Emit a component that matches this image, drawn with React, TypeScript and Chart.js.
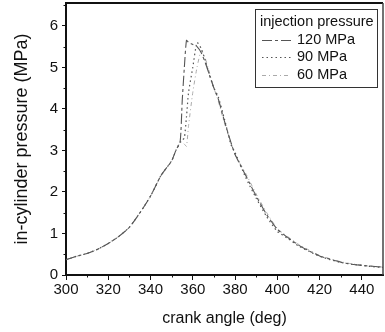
import React, { useEffect, useRef } from "react";
import { Chart, registerables } from "chart.js";

Chart.register(...registerables);

const angles = [300, 305, 310, 315, 320, 325, 330, 335, 340, 345, 350, 352, 354, 355, 356, 357, 358, 360, 362, 364, 366, 368, 370, 372, 375, 378, 380, 385, 390, 395, 400, 405, 410, 415, 420, 425, 430, 435, 440, 445, 450];
const p120 = [0.37, 0.45, 0.52, 0.62, 0.76, 0.93, 1.15, 1.5, 1.9, 2.4, 2.75, 3.0, 3.2, 4.2, 5.0, 5.65, 5.6, 5.55, 5.5, 5.35, 5.1, 4.8, 4.5, 4.25, 3.7, 3.2, 2.9, 2.4, 1.9, 1.45, 1.1, 0.9, 0.72, 0.58, 0.46, 0.38, 0.31, 0.26, 0.23, 0.21, 0.19];
const p90 = [0.37, 0.45, 0.52, 0.62, 0.76, 0.93, 1.15, 1.5, 1.9, 2.4, 2.75, 3.0, 3.2, 3.25, 3.3, 3.8, 4.4, 5.0, 5.6, 5.45, 5.15, 4.8, 4.5, 4.3, 3.75, 3.15, 2.95, 2.35, 1.85, 1.4, 1.05, 0.88, 0.7, 0.57, 0.45, 0.37, 0.3, 0.26, 0.23, 0.2, 0.18];
const p60 = [0.37, 0.45, 0.52, 0.62, 0.76, 0.93, 1.15, 1.5, 1.9, 2.4, 2.75, 3.0, 3.2, 3.2, 3.15, 3.1, 3.6, 4.4, 5.0, 5.4, 5.2, 4.85, 4.5, 4.2, 3.65, 3.2, 2.9, 2.45, 1.95, 1.5, 1.12, 0.92, 0.74, 0.6, 0.47, 0.39, 0.32, 0.27, 0.24, 0.21, 0.19];

const seriesLabels = ["120 MPa", "90 MPa", "60 MPa"];
const legendTitle = "injection pressure";
const xTicks = [300, 320, 340, 360, 380, 400, 420, 440];
const yTicks = [0, 1, 2, 3, 4, 5, 6];
const xTitle = "crank angle (deg)";
const yTitle = "in-cylinder pressure (MPa)";

const FONT = "'Liberation Sans', Arial, Helvetica, sans-serif";

const frameAndLegend = {
  id: "frameAndLegend",
  afterDatasetsDraw(chart: any) {
    const { ctx, chartArea: a, scales } = chart;
    const xs = scales.x;
    const ys = scales.y;
    ctx.save();
    // minor ticks
    ctx.strokeStyle = "#111";
    ctx.lineWidth = 1;
    for (let v = xs.min + 10; v < xs.max; v += 20) {
      const px = Math.round(xs.getPixelForValue(v)) + 0.5;
      ctx.beginPath();
      ctx.moveTo(px, a.bottom);
      ctx.lineTo(px, a.bottom + 2.5);
      ctx.stroke();
    }
    for (let v = 0.5; v < ys.max; v += 1) {
      const py = Math.round(ys.getPixelForValue(v)) + 0.5;
      ctx.beginPath();
      ctx.moveTo(a.left, py);
      ctx.lineTo(a.left - 2.5, py);
      ctx.stroke();
    }
    // top & right frame
    ctx.strokeStyle = "#111";
    ctx.lineWidth = 2;
    ctx.beginPath();
    ctx.moveTo(a.left, a.top);
    ctx.lineTo(a.right, a.top);
    ctx.stroke();
    ctx.strokeStyle = "#444";
    ctx.lineWidth = 1.5;
    ctx.beginPath();
    ctx.moveTo(a.right, a.top);
    ctx.lineTo(a.right, a.bottom);
    ctx.stroke();

    // legend box
    const bx = 255.5, by = 9.5, bw = 122, bh = 78;
    ctx.fillStyle = "#fff";
    ctx.fillRect(bx, by, bw, bh);
    ctx.strokeStyle = "#333";
    ctx.lineWidth = 1;
    ctx.strokeRect(bx, by, bw, bh);
    ctx.fillStyle = "#111";
    ctx.font = `14.5px ${FONT}`;
    ctx.textBaseline = "middle";
    ctx.textAlign = "left";
    ctx.fillText(legendTitle, 260, 22);
    const ds = chart.data.datasets;
    const rowY = [39.5, 57, 74.5];
    ds.forEach((d: any, i: number) => {
      ctx.save();
      ctx.strokeStyle = d.borderColor;
      ctx.lineWidth = d.borderWidth;
      ctx.setLineDash(d.borderDash || []);
      ctx.beginPath();
      ctx.moveTo(262, Math.round(rowY[i]) + 0.5);
      ctx.lineTo(291, Math.round(rowY[i]) + 0.5);
      ctx.stroke();
      ctx.restore();
      ctx.fillStyle = "#111";
      ctx.fillText(d.label, 297, rowY[i]);
    });
    ctx.restore();
  },
};

export default function App() {
  const ref = useRef<HTMLCanvasElement | null>(null);
  useEffect(() => {
    if (!ref.current) return;
    const chart = new Chart(ref.current, {
      type: "line",
      data: {
        datasets: [
          {
            label: seriesLabels[0],
            data: angles.map((x, i) => ({ x, y: p120[i] })),
            borderColor: "#555",
            borderWidth: 1.1,
            borderDash: [10, 3, 3, 3],
            pointRadius: 0,
            tension: 0.2,
          },
          {
            label: seriesLabels[1],
            data: angles.map((x, i) => ({ x, y: p90[i] })),
            borderColor: "#555",
            borderWidth: 1.2,
            borderDash: [1.5, 3],
            pointRadius: 0,
            tension: 0.2,
          },
          {
            label: seriesLabels[2],
            data: angles.map((x, i) => ({ x, y: p60[i] })),
            borderColor: "#aaa",
            borderWidth: 1,
            borderDash: [4, 3, 1, 3],
            pointRadius: 0,
            tension: 0.2,
          },
        ],
      },
      options: {
        responsive: false,
        animation: false,
        layout: { padding: { top: 3, right: 2, left: 0, bottom: 0 } },
        plugins: { legend: { display: false }, tooltip: { enabled: false } },
        scales: {
          x: {
            type: "linear",
            min: 300,
            max: 450,
            afterBuildTicks: (s: any) => {
              s.ticks = xTicks.map((v) => ({ value: v }));
            },
            afterFit: (s: any) => {
              s.height = 57;
              s.paddingLeft = 0;
              s.paddingRight = 0;
            },
            grid: { display: true, drawOnChartArea: false, drawTicks: true, tickLength: 5, color: "#111", tickWidth: 1 },
            border: { display: true, color: "#111", width: 2 },
            ticks: { color: "#111", font: { family: FONT, size: 15 }, padding: 1, maxRotation: 0, autoSkip: false },
            title: { display: true, text: xTitle, color: "#111", font: { family: FONT, size: 16 }, padding: { top: 0, bottom: 4 } },
          },
          y: {
            type: "linear",
            min: 0,
            max: 6.55,
            afterBuildTicks: (s: any) => {
              s.ticks = yTicks.map((v) => ({ value: v }));
            },
            afterFit: (s: any) => {
              s.width = 66;
              s.paddingTop = 0;
              s.paddingBottom = 0;
            },
            grid: { display: true, drawOnChartArea: false, drawTicks: true, tickLength: 4, color: "#111", tickWidth: 1 },
            border: { display: true, color: "#111", width: 2 },
            ticks: { color: "#111", font: { family: FONT, size: 15 }, padding: 4 },
            title: { display: true, text: yTitle, color: "#111", font: { family: FONT, size: 18 }, padding: { top: 11, bottom: 0 } },
          },
        },
      },
      plugins: [frameAndLegend],
    });
    return () => chart.destroy();
  }, []);
  return (
    <div style={{ position: "fixed", left: 0, top: 0, width: 385, height: 332, background: "#fff" }}>
      <canvas ref={ref} width={385} height={332} />
    </div>
  );
}
